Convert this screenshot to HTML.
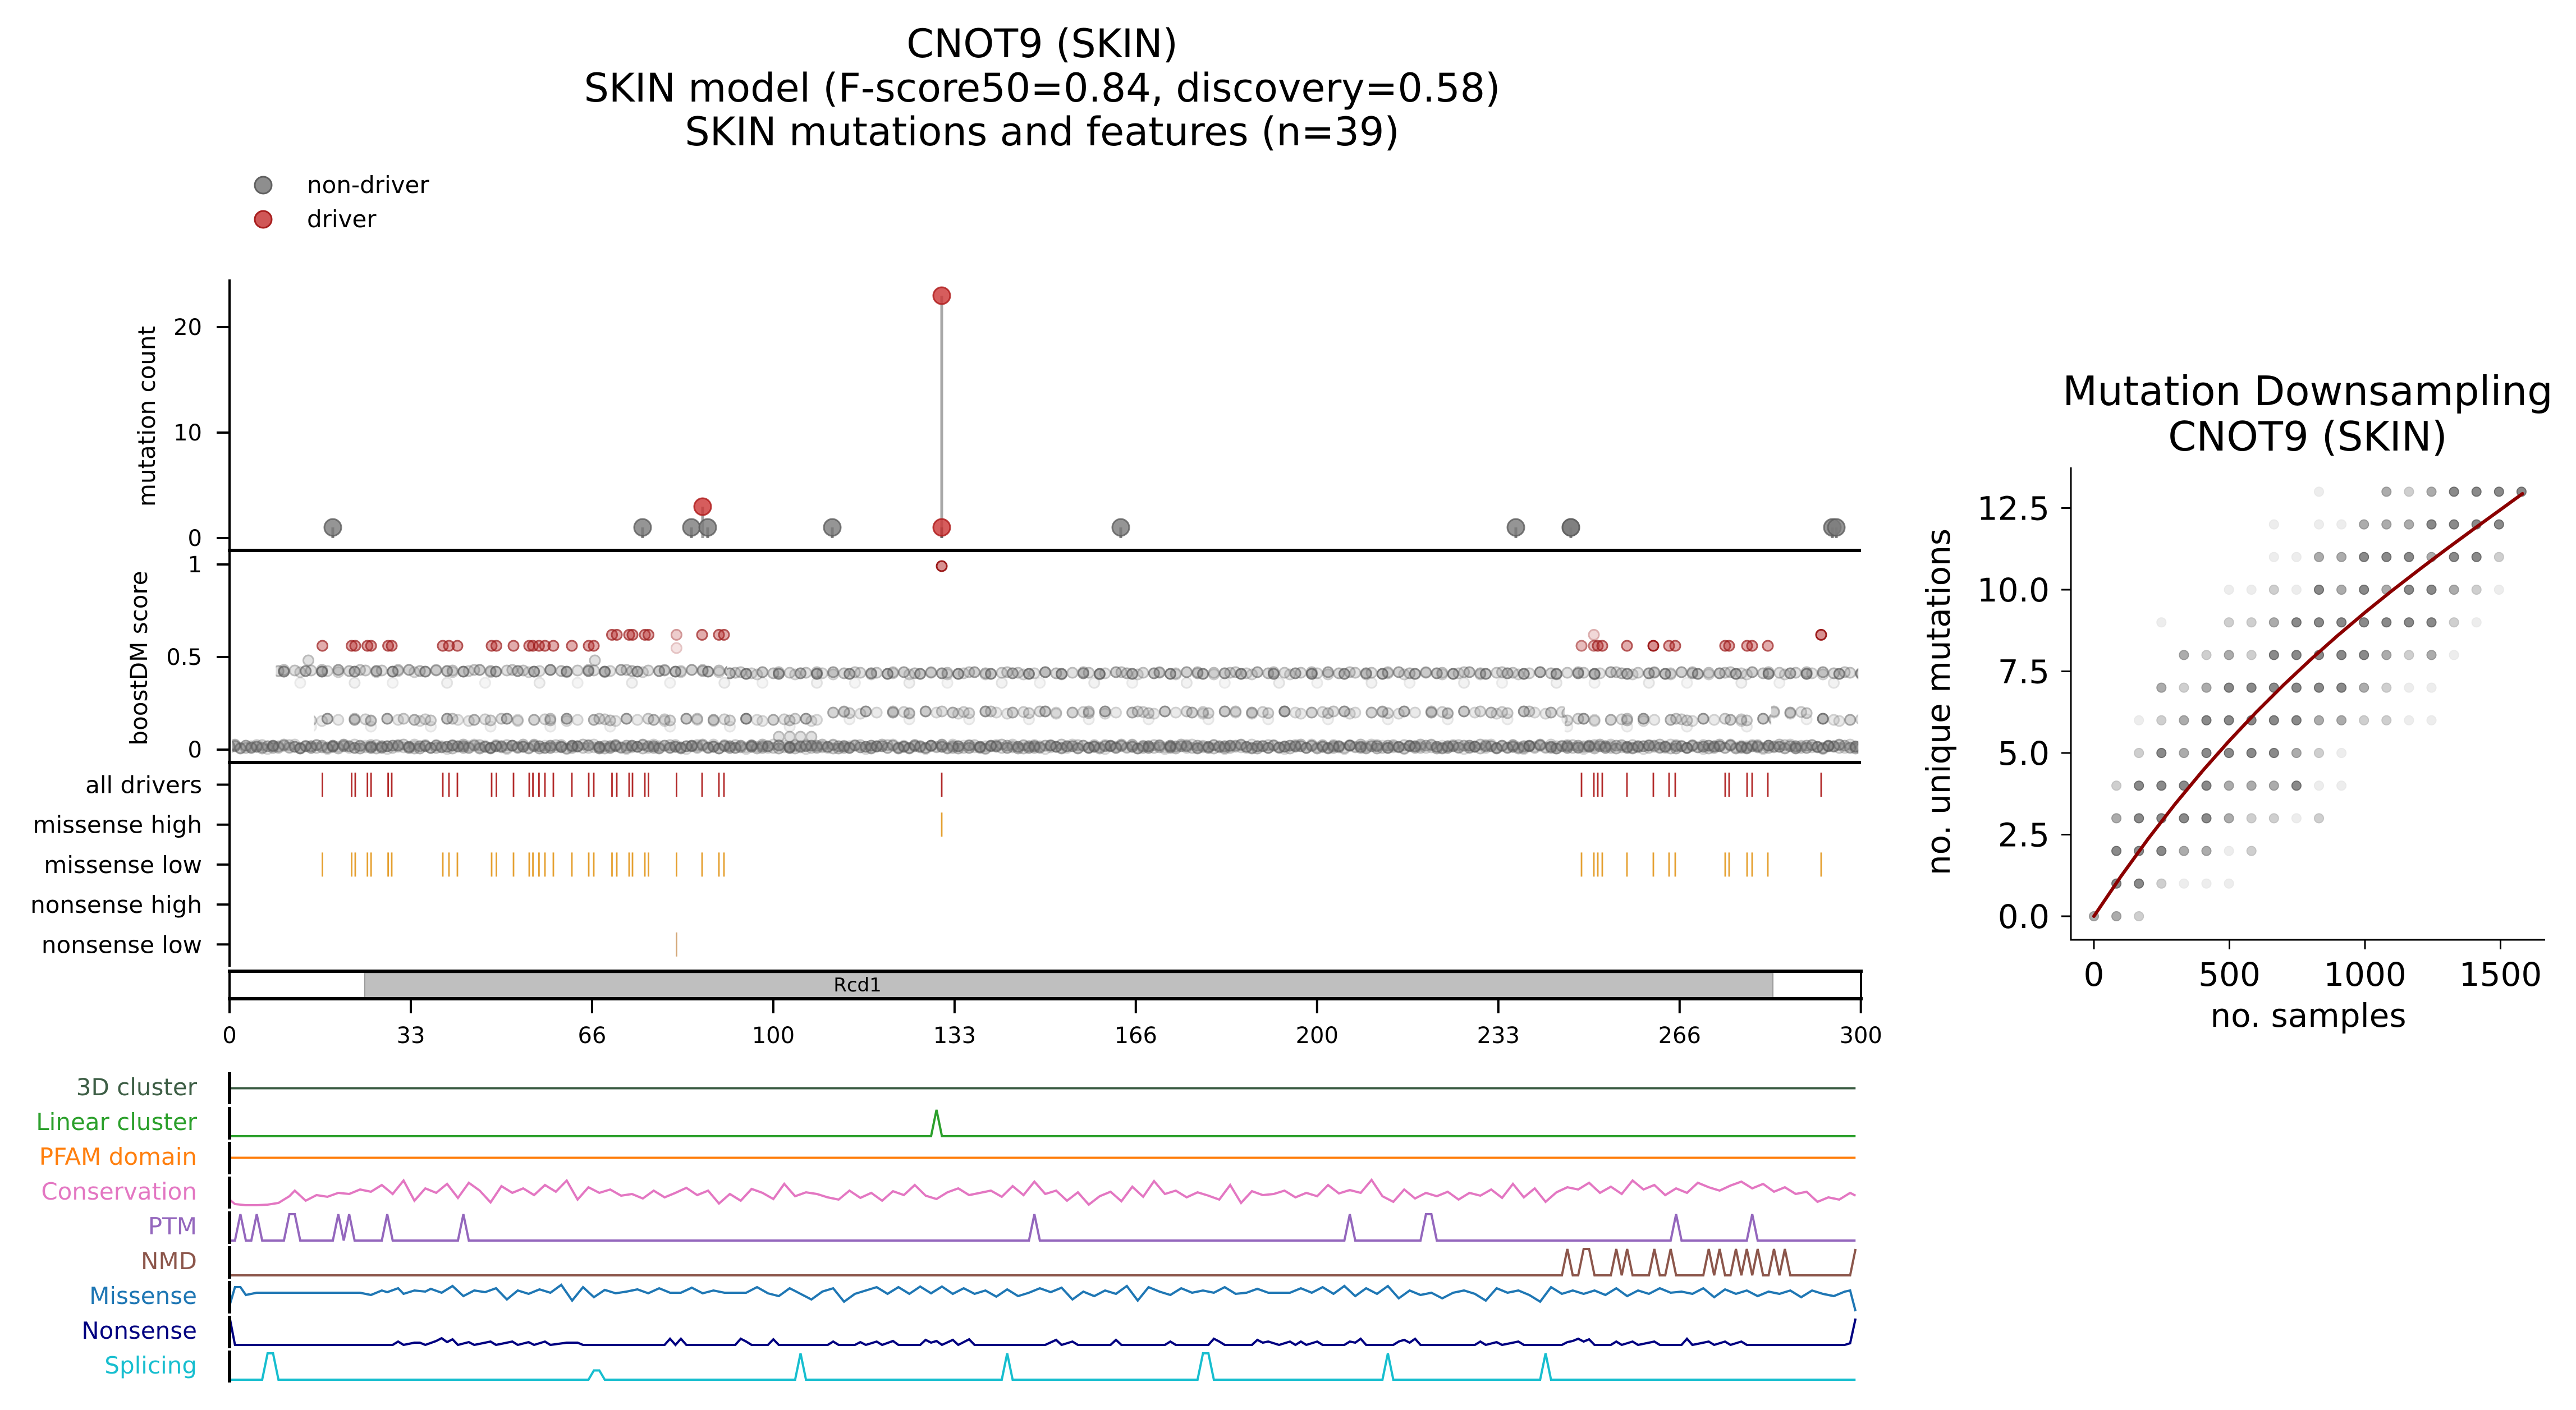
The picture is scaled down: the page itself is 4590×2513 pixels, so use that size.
<!DOCTYPE html>
<html><head><meta charset="utf-8">
<style>html,body{margin:0;padding:0;background:#fff;}svg{display:block;}</style>
</head>
<body>
<svg xmlns="http://www.w3.org/2000/svg" width="4590" height="2513" viewBox="0 0 4590 2513" font-family="'DejaVu Sans','Liberation Sans',sans-serif">
<defs>
<pattern id="p0" patternUnits="userSpaceOnUse" x="413.845" y="1300" width="67.83" height="60">
<g fill="#6a6a6a" fill-opacity="0.5" stroke="#555" stroke-width="3">
<circle cx="-4.845" cy="30" r="9" opacity="0.55"/>
<circle cx="4.845" cy="30" r="9" opacity="0.6"/>
<circle cx="14.535" cy="33" r="9" opacity="0.35"/>
<circle cx="24.225" cy="29" r="9" opacity="0.47"/>
<circle cx="33.915" cy="32" r="9" opacity="0.28"/>
<circle cx="43.605" cy="31" r="9" opacity="0.68"/>
<circle cx="53.295" cy="34" r="9" opacity="0.4"/>
<circle cx="62.985" cy="30" r="9" opacity="0.55"/>
<circle cx="72.675" cy="30" r="9" opacity="0.6"/>
</g>
</pattern>
<pattern id="p1" patternUnits="userSpaceOnUse" x="413.845" y="1300" width="106.59" height="60">
<g fill="#6a6a6a" fill-opacity="0.5" stroke="#555" stroke-width="3">
<circle cx="-4.845" cy="33" r="9" opacity="0.28"/>
<circle cx="4.845" cy="27" r="9" opacity="0.28"/>
<circle cx="14.535" cy="34" r="9" opacity="0.47"/>
<circle cx="24.225" cy="29" r="9" opacity="0.2"/>
<circle cx="33.915" cy="33" r="9" opacity="0.55"/>
<circle cx="43.605" cy="28" r="9" opacity="0.34"/>
<circle cx="53.295" cy="32" r="9" opacity="0.4"/>
<circle cx="62.985" cy="35" r="9" opacity="0.25"/>
<circle cx="72.675" cy="29" r="9" opacity="0.6"/>
<circle cx="82.365" cy="31" r="9" opacity="0.3"/>
<circle cx="92.055" cy="27" r="9" opacity="0.4"/>
<circle cx="101.745" cy="33" r="9" opacity="0.28"/>
<circle cx="111.435" cy="27" r="9" opacity="0.28"/>
</g>
</pattern>
<pattern id="p2" patternUnits="userSpaceOnUse" x="413.845" y="1300" width="48.45" height="60">
<g fill="#6a6a6a" fill-opacity="0.5" stroke="#555" stroke-width="3">
<circle cx="4.845" cy="28" r="9" opacity="0.34"/>
<circle cx="24.225" cy="33" r="9" opacity="0.4"/>
<circle cx="33.915" cy="30" r="9" opacity="0.28"/>
<circle cx="53.295" cy="28" r="9" opacity="0.34"/>
</g>
</pattern>
<pattern id="q1" patternUnits="userSpaceOnUse" x="413.845" y="1170" width="125.97" height="50">
<g fill="#6a6a6a" fill-opacity="0.5" stroke="#555" stroke-width="3">
<circle cx="4.845" cy="26" r="9" opacity="0.68"/>
<circle cx="14.535" cy="25" r="9" opacity="0.4"/>
<circle cx="33.915" cy="27" r="9" opacity="0.8"/>
<circle cx="43.605" cy="26" r="9" opacity="0.34"/>
<circle cx="62.985" cy="24" r="9" opacity="0.6"/>
<circle cx="82.365" cy="26" r="9" opacity="0.47"/>
<circle cx="92.055" cy="27" r="9" opacity="0.74"/>
<circle cx="111.435" cy="25" r="9" opacity="0.4"/>
<circle cx="130.815" cy="26" r="9" opacity="0.68"/>
</g>
</pattern>
<pattern id="q2" patternUnits="userSpaceOnUse" x="413.845" y="1170" width="67.83" height="50">
<g fill="#6a6a6a" fill-opacity="0.5" stroke="#555" stroke-width="3">
<circle cx="24.225" cy="24" r="9" opacity="0.4"/>
<circle cx="53.295" cy="28" r="9" opacity="0.3"/>
</g>
</pattern>
<pattern id="q3" patternUnits="userSpaceOnUse" x="413.845" y="1200" width="164.73" height="40">
<g fill="#6a6a6a" fill-opacity="0.5" stroke="#555" stroke-width="3">
<circle cx="53.295" cy="17" r="9" opacity="0.18"/>
<circle cx="121.125" cy="17" r="9" opacity="0.13"/>
</g>
</pattern>
<pattern id="s1" patternUnits="userSpaceOnUse" x="413.845" y="1250" width="106.59" height="60">
<g fill="#6a6a6a" fill-opacity="0.5" stroke="#555" stroke-width="3">
<circle cx="4.845" cy="33" r="9" opacity="0.55"/>
<circle cx="24.225" cy="32" r="9" opacity="0.34"/>
<circle cx="33.915" cy="34" r="9" opacity="0.4"/>
<circle cx="33.915" cy="45" r="9" opacity="0.15"/>
<circle cx="62.985" cy="31" r="9" opacity="0.68"/>
<circle cx="82.365" cy="33" r="9" opacity="0.28"/>
<circle cx="111.435" cy="33" r="9" opacity="0.55"/>
</g>
</pattern>
<pattern id="s2" patternUnits="userSpaceOnUse" x="413.845" y="1250" width="87.21" height="60">
<g fill="#6a6a6a" fill-opacity="0.5" stroke="#555" stroke-width="3">
<circle cx="43.605" cy="31" r="9" opacity="0.4"/>
<circle cx="72.675" cy="35" r="9" opacity="0.28"/>
</g>
</pattern>
</defs>
<rect width="4590" height="2513" fill="#fff"/>

<!-- Main title -->
<g font-size="70" text-anchor="middle" fill="#000">
<text x="1857" y="102">CNOT9 (SKIN)</text>
<text x="1857" y="181">SKIN model (F-score50=0.84, discovery=0.58)</text>
<text x="1857" y="259">SKIN mutations and features (n=39)</text>
</g>

<!-- Legend -->
<circle cx="469" cy="330" r="15" fill="#7a7a7a" fill-opacity="0.85" stroke="#606060" stroke-width="3"/>
<circle cx="469" cy="391" r="15" fill="#c83a3a" fill-opacity="0.85" stroke="#a81e1e" stroke-width="3"/>
<g font-size="42" fill="#000">
<text x="547" y="344">non-driver</text>
<text x="547" y="405">driver</text>
</g>

<!-- boostDM dots -->
<rect x="413.845" y="1300" width="2897.4" height="60" fill="url(#p0)"/>
<rect x="413.845" y="1300" width="2897.4" height="60" fill="url(#p1)"/>
<rect x="413.845" y="1300" width="2897.4" height="60" fill="url(#p2)"/>
<rect x="491.4" y="1170" width="804.2" height="50" fill="url(#q1)"/>
<rect x="491.4" y="1170" width="804.2" height="50" fill="url(#q2)"/>
<g transform="translate(0,4)">
<rect x="1295.6" y="1170" width="2015.6" height="50" fill="url(#q1)"/>
<rect x="1295.6" y="1170" width="2015.6" height="50" fill="url(#q2)"/>
</g>
<rect x="491.4" y="1200" width="2819.8" height="40" fill="url(#q3)"/>
<rect x="559.2" y="1250" width="910.9" height="60" fill="url(#s1)"/>
<rect x="559.2" y="1250" width="910.9" height="60" fill="url(#s2)"/>
<g transform="translate(0,-13)">
<rect x="1470.1" y="1250" width="1317.8" height="60" fill="url(#s1)"/>
<rect x="1470.1" y="1250" width="1317.8" height="60" fill="url(#s2)"/>
<rect x="3156.1" y="1250" width="77.5" height="60" fill="url(#s1)"/>
<rect x="3156.1" y="1250" width="77.5" height="60" fill="url(#s2)"/>
</g>
<rect x="2787.9" y="1250" width="368.2" height="60" fill="url(#s1)"/>
<rect x="2787.9" y="1250" width="368.2" height="60" fill="url(#s2)"/>
<rect x="3233.6" y="1250" width="77.5" height="60" fill="url(#s1)"/>
<rect x="3233.6" y="1250" width="77.5" height="60" fill="url(#s2)"/>
<g fill="#6a6a6a" fill-opacity="0.5" stroke="#555" stroke-width="3" opacity="0.4">
<circle cx="1387.7" cy="1313" r="9"/>
<circle cx="1407.1" cy="1313" r="9"/>
<circle cx="1426.4" cy="1313" r="9"/>
<circle cx="1445.8" cy="1313" r="9"/>
<circle cx="549.5" cy="1177" r="9"/>
<circle cx="1060" cy="1177" r="9"/>
</g>
<!-- red driver dots -->
<g fill="#b22222" fill-opacity="0.5" stroke="#9c1a1a" stroke-width="3">
<circle cx="574.5" cy="1151" r="9" opacity="0.75"/>
<circle cx="626.6" cy="1151" r="9" opacity="0.75"/>
<circle cx="633" cy="1151" r="9" opacity="0.75"/>
<circle cx="654.7" cy="1151" r="9" opacity="0.75"/>
<circle cx="661.2" cy="1151" r="9" opacity="0.75"/>
<circle cx="691.6" cy="1151" r="9" opacity="0.75"/>
<circle cx="698" cy="1151" r="9" opacity="0.75"/>
<circle cx="789" cy="1151" r="9" opacity="0.75"/>
<circle cx="800" cy="1151" r="9" opacity="0.75"/>
<circle cx="815" cy="1151" r="9" opacity="0.75"/>
<circle cx="876" cy="1151" r="9" opacity="0.75"/>
<circle cx="884.5" cy="1151" r="9" opacity="0.75"/>
<circle cx="915" cy="1151" r="9" opacity="0.75"/>
<circle cx="943" cy="1151" r="9" opacity="0.75"/>
<circle cx="949.6" cy="1151" r="9" opacity="0.75"/>
<circle cx="960.4" cy="1151" r="9" opacity="0.75"/>
<circle cx="971" cy="1151" r="9" opacity="0.75"/>
<circle cx="986" cy="1151" r="9" opacity="0.75"/>
<circle cx="1019" cy="1151" r="9" opacity="0.75"/>
<circle cx="1049" cy="1151" r="9" opacity="0.75"/>
<circle cx="1058" cy="1151" r="9" opacity="0.75"/>
<circle cx="1090.5" cy="1131.4" r="9" opacity="0.75"/>
<circle cx="1099" cy="1131.4" r="9" opacity="0.75"/>
<circle cx="1121" cy="1131.4" r="9" opacity="0.75"/>
<circle cx="1127" cy="1131.4" r="9" opacity="0.75"/>
<circle cx="1149" cy="1131.4" r="9" opacity="0.75"/>
<circle cx="1155.5" cy="1131.4" r="9" opacity="0.75"/>
<circle cx="1205.4" cy="1131.4" r="9" opacity="0.45"/>
<circle cx="1205.4" cy="1155" r="9" opacity="0.25"/>
<circle cx="1251" cy="1131.4" r="9" opacity="0.75"/>
<circle cx="1281" cy="1131.4" r="9" opacity="0.75"/>
<circle cx="1290" cy="1131.4" r="9" opacity="0.75"/>
<circle cx="1678" cy="1009" r="9" opacity="1"/>
<circle cx="2818" cy="1151" r="9" opacity="0.6"/>
<circle cx="2840" cy="1131.4" r="9" opacity="0.35"/>
<circle cx="2840" cy="1151" r="9" opacity="0.6"/>
<circle cx="2847" cy="1151" r="9" opacity="0.75"/>
<circle cx="2855" cy="1151" r="9" opacity="0.75"/>
<circle cx="2899" cy="1151" r="9" opacity="0.75"/>
<circle cx="2946" cy="1151" r="9" opacity="1"/>
<circle cx="2974" cy="1151" r="9" opacity="0.75"/>
<circle cx="2985" cy="1151" r="9" opacity="0.75"/>
<circle cx="3074" cy="1151" r="9" opacity="0.75"/>
<circle cx="3081" cy="1151" r="9" opacity="0.75"/>
<circle cx="3113" cy="1151" r="9" opacity="0.75"/>
<circle cx="3122" cy="1151" r="9" opacity="0.75"/>
<circle cx="3150" cy="1151" r="9" opacity="0.75"/>
<circle cx="3245" cy="1131.4" r="9" opacity="1"/>
</g>

<!-- track lines -->
<path fill="none" stroke="#b22a2a" stroke-width="2.8" d="M574.5 1377v43M626.6 1377v43M633 1377v43M654.7 1377v43M661.2 1377v43M691.6 1377v43M698 1377v43M789 1377v43M800 1377v43M815 1377v43M876 1377v43M884.5 1377v43M915 1377v43M943 1377v43M949.6 1377v43M960.4 1377v43M971 1377v43M986 1377v43M1019 1377v43M1049 1377v43M1058 1377v43M1090.5 1377v43M1099 1377v43M1121 1377v43M1127 1377v43M1149 1377v43M1155.5 1377v43M1205.4 1377v43M1251 1377v43M1281 1377v43M1290 1377v43M1678 1377v43M2818 1377v43M2840 1377v43M2847 1377v43M2855 1377v43M2899 1377v43M2946 1377v43M2974 1377v43M2985 1377v43M3074 1377v43M3081 1377v43M3113 1377v43M3122 1377v43M3150 1377v43M3245 1377v43"/>
<path fill="none" stroke="#e5a030" stroke-width="2.8" d="M1678 1448.2v43"/>
<path fill="none" stroke="#e5a030" stroke-width="2.8" d="M574.5 1519.4v43M626.6 1519.4v43M633 1519.4v43M654.7 1519.4v43M661.2 1519.4v43M691.6 1519.4v43M698 1519.4v43M789 1519.4v43M800 1519.4v43M815 1519.4v43M876 1519.4v43M884.5 1519.4v43M915 1519.4v43M943 1519.4v43M949.6 1519.4v43M960.4 1519.4v43M971 1519.4v43M986 1519.4v43M1019 1519.4v43M1049 1519.4v43M1058 1519.4v43M1090.5 1519.4v43M1099 1519.4v43M1121 1519.4v43M1127 1519.4v43M1149 1519.4v43M1155.5 1519.4v43M1205.4 1519.4v43M1251 1519.4v43M1281 1519.4v43M1290 1519.4v43M2818 1519.4v43M2840 1519.4v43M2847 1519.4v43M2855 1519.4v43M2899 1519.4v43M2946 1519.4v43M2974 1519.4v43M2985 1519.4v43M3074 1519.4v43M3081 1519.4v43M3113 1519.4v43M3122 1519.4v43M3150 1519.4v43M3245 1519.4v43"/>
<path fill="none" stroke="#d4a97a" stroke-width="2.8" d="M1205.4 1661.8v43"/>

<!-- Top plot stems and dots -->
<line x1="1678" y1="959" x2="1678" y2="527" stroke="#a8a8a8" stroke-width="5"/>
<line x1="1252" y1="959" x2="1252" y2="903" stroke="#a0a0a0" stroke-width="5"/>
<g stroke="#555" stroke-opacity="0.75" stroke-width="5">
<line x1="593" y1="959" x2="593" y2="940"/>
<line x1="1145" y1="959" x2="1145" y2="940"/>
<line x1="1232" y1="959" x2="1232" y2="940"/>
<line x1="1261" y1="959" x2="1261" y2="940"/>
<line x1="1483" y1="959" x2="1483" y2="940"/>
<line x1="1997" y1="959" x2="1997" y2="940"/>
<line x1="2701" y1="959" x2="2701" y2="940"/>
<line x1="2799" y1="959" x2="2799" y2="940"/>
<line x1="3265" y1="959" x2="3265" y2="940"/>
<line x1="3272" y1="959" x2="3272" y2="940"/>
<line x1="1678" y1="959" x2="1678" y2="940"/>
</g>
<g fill="#7a7a7a" fill-opacity="0.8" stroke="#5c5c5c" stroke-opacity="0.8" stroke-width="3">
<circle cx="593" cy="940" r="15"/>
<circle cx="1145" cy="940" r="15"/>
<circle cx="1232" cy="940" r="15"/>
<circle cx="1261" cy="940" r="15"/>
<circle cx="1483" cy="940" r="15"/>
<circle cx="1997" cy="940" r="15"/>
<circle cx="2701" cy="940" r="15"/>
<circle cx="2799" cy="940" r="15"/>
<circle cx="2799" cy="940" r="15"/>
<circle cx="3265" cy="940" r="15"/>
<circle cx="3272" cy="940" r="15"/>
</g>
<g fill="#cc3535" fill-opacity="0.8" stroke="#b01e1e" stroke-opacity="0.85" stroke-width="3">
<circle cx="1252" cy="903" r="15"/>
<circle cx="1678" cy="940" r="15"/>
<circle cx="1678" cy="527" r="15"/>
</g>

<!-- Axes main -->
<g stroke="#000" stroke-width="4">
<line x1="409" y1="498" x2="409" y2="984"/>
<line x1="386" y1="959" x2="409" y2="959"/>
<line x1="386" y1="771" x2="409" y2="771"/>
<line x1="386" y1="583" x2="409" y2="583"/>
<line x1="409" y1="984" x2="409" y2="1362"/>
<line x1="386" y1="1006" x2="409" y2="1006"/>
<line x1="386" y1="1171" x2="409" y2="1171"/>
<line x1="386" y1="1336" x2="409" y2="1336"/>
<line x1="409" y1="1362" x2="409" y2="1723"/>
<line x1="386" y1="1398.5" x2="409" y2="1398.5"/>
<line x1="386" y1="1469.7" x2="409" y2="1469.7"/>
<line x1="386" y1="1540.9" x2="409" y2="1540.9"/>
<line x1="386" y1="1612.1" x2="409" y2="1612.1"/>
<line x1="386" y1="1683.3" x2="409" y2="1683.3"/>
</g>
<g stroke="#000" stroke-width="6">
<line x1="406" y1="981" x2="3316" y2="981"/>
<line x1="406" y1="1359" x2="3316" y2="1359"/>
</g>
<g font-size="40" text-anchor="end" fill="#000">
<text x="360" y="973">0</text>
<text x="360" y="785">10</text>
<text x="360" y="597">20</text>
<text x="360" y="1020">1</text>
<text x="360" y="1185">0.5</text>
<text x="360" y="1350">0</text>
</g>
<g font-size="42" text-anchor="end" fill="#000">
<text x="360" y="1413.5">all drivers</text>
<text x="360" y="1484.7">missense high</text>
<text x="360" y="1555.9">missense low</text>
<text x="360" y="1627.1">nonsense high</text>
<text x="360" y="1698.3">nonsense low</text>
</g>
<text transform="translate(276,742) rotate(-90)" font-size="42" text-anchor="middle">mutation count</text>
<text transform="translate(262,1173) rotate(-90)" font-size="42" text-anchor="middle">boostDM score</text>

<!-- Domain box -->
<rect x="650" y="1734" width="2509" height="44" fill="#bfbfbf" stroke="#9a9a9a" stroke-width="2"/>
<g stroke="#000">
<line x1="406" y1="1731" x2="3319" y2="1731" stroke-width="6"/>
<line x1="406" y1="1780" x2="3319" y2="1780" stroke-width="6"/>
<line x1="409" y1="1731" x2="409" y2="1780" stroke-width="4"/>
<line x1="3316" y1="1731" x2="3316" y2="1780" stroke-width="4"/>
</g>
<text x="1528" y="1767" font-size="34" text-anchor="middle">Rcd1</text>

<!-- X ticks -->
<g stroke="#000" stroke-width="4">
<line x1="409" y1="1782" x2="409" y2="1806"/>
<line x1="732" y1="1782" x2="732" y2="1806"/>
<line x1="1054.9" y1="1782" x2="1054.9" y2="1806"/>
<line x1="1377.9" y1="1782" x2="1377.9" y2="1806"/>
<line x1="1700.9" y1="1782" x2="1700.9" y2="1806"/>
<line x1="2023.8" y1="1782" x2="2023.8" y2="1806"/>
<line x1="2346.8" y1="1782" x2="2346.8" y2="1806"/>
<line x1="2669.8" y1="1782" x2="2669.8" y2="1806"/>
<line x1="2992.8" y1="1782" x2="2992.8" y2="1806"/>
<line x1="3315.7" y1="1782" x2="3315.7" y2="1806"/>
</g>
<g font-size="40" text-anchor="middle" fill="#000">
<text x="409" y="1859">0</text>
<text x="732" y="1859">33</text>
<text x="1054.9" y="1859">66</text>
<text x="1377.9" y="1859">100</text>
<text x="1700.9" y="1859">133</text>
<text x="2023.8" y="1859">166</text>
<text x="2346.8" y="1859">200</text>
<text x="2669.8" y="1859">233</text>
<text x="2992.8" y="1859">266</text>
<text x="3315.7" y="1859">300</text>
</g>

<!-- Feature lines -->
<g transform="translate(409,0) scale(9.69,1)" fill="none" stroke-width="4" stroke-linejoin="miter">
<polyline vector-effect="non-scaling-stroke" stroke="#3d5e45" points="0,1939.5 299,1939.5"/>
<polyline vector-effect="non-scaling-stroke" stroke="#2ca02c" points="0,2025 129,2025 130,1978 131,2025 299,2025"/>
<polyline vector-effect="non-scaling-stroke" stroke="#ff7f0e" points="0,2063.5 299,2063.5"/>
<polyline vector-effect="non-scaling-stroke" stroke="#e377c2" points="0,2138 1,2146 3,2148 5,2148 7,2147 9,2144 11,2132 12,2122 14,2140 16,2130 18,2133 20,2126 22,2128 24,2120 26,2124 28,2112 30,2128 32,2104 34,2140 36,2118 38,2126 40,2110 42,2135 44,2108 46,2122 48,2143 50,2114 52,2126 54,2118 56,2130 58,2112 60,2124 62,2104 64,2138 66,2116 68,2126 70,2120 72,2131 74,2128 76,2136 78,2122 80,2134 82,2126 84,2117 86,2130 88,2122 90,2145 92,2128 94,2140 96,2119 98,2126 100,2137 102,2110 104,2132 106,2125 108,2128 110,2134 112,2138 114,2122 116,2135 118,2126 120,2140 122,2123 124,2130 126,2112 128,2131 130,2137 132,2125 134,2118 136,2130 138,2126 140,2122 142,2133 144,2114 146,2130 148,2106 150,2128 152,2122 154,2140 156,2125 158,2147 160,2132 162,2124 164,2141 166,2115 168,2133 170,2105 172,2128 174,2122 176,2134 178,2125 180,2131 182,2138 184,2112 186,2144 188,2123 190,2130 192,2128 194,2122 196,2134 198,2126 200,2132 202,2112 204,2127 206,2121 208,2126 210,2103 212,2132 214,2142 216,2120 218,2136 220,2126 222,2132 224,2124 226,2138 228,2126 230,2131 232,2120 234,2135 236,2110 238,2134 240,2118 242,2142 244,2125 246,2116 248,2120 250,2108 252,2126 254,2115 256,2128 258,2104 260,2120 262,2112 264,2130 266,2118 268,2126 270,2108 272,2116 274,2122 276,2113 278,2106 280,2118 282,2110 284,2124 286,2116 288,2128 290,2124 292,2142 294,2134 296,2138 298,2126 299,2131"/>
<polyline vector-effect="non-scaling-stroke" stroke="#9467bd" points="0,2211 1,2211 2,2164 3,2211 4,2211 5,2164 6,2211 10,2211 11,2164 12,2164 13,2211 19,2211 20,2164 21,2211 22,2164 23,2211 28,2211 29,2164 30,2211 42,2211 43,2164 44,2211 147,2211 148,2164 149,2211 205,2211 206,2164 207,2211 219,2211 220,2164 221,2164 222,2211 265,2211 266,2164 267,2211 279,2211 280,2164 281,2211 299,2211"/>
<polyline vector-effect="non-scaling-stroke" stroke="#8c564b" points="0,2273 245,2273 246,2226 247,2273 248,2273 249,2226 250,2226 251,2273 254,2273 255,2226 256,2273 257,2226 258,2273 261,2273 262,2226 263,2273 264,2273 265,2226 266,2273 271,2273 272,2226 273,2273 274,2226 275,2273 276,2273 277,2226 278,2273 279,2226 280,2273 281,2226 282,2273 283,2273 284,2226 285,2273 286,2226 287,2273 298,2273 299,2226"/>
<polyline vector-effect="non-scaling-stroke" stroke="#1f77b4" points="0,2327 1,2294 2,2294 3,2308 5,2304 24,2304 26,2308 28,2300 29,2303 31,2296 32,2306 34,2300 36,2302 37,2297 39,2304 41,2292 43,2310 45,2300 47,2303 49,2296 51,2316 53,2300 55,2306 57,2298 59,2304 61,2290 63,2318 65,2294 67,2312 69,2299 71,2305 73,2302 75,2298 77,2305 79,2296 81,2304 83,2304 85,2295 87,2305 89,2300 91,2304 95,2304 97,2294 99,2305 101,2310 103,2296 105,2306 107,2316 109,2302 111,2296 113,2320 115,2306 117,2300 119,2294 121,2306 123,2294 125,2306 127,2293 129,2305 131,2293 133,2306 135,2296 137,2306 139,2300 141,2311 143,2298 145,2310 147,2304 149,2296 151,2303 153,2295 155,2316 157,2302 159,2310 161,2300 163,2306 165,2292 167,2318 169,2294 171,2302 173,2308 175,2296 177,2304 179,2300 181,2304 183,2294 185,2306 187,2304 189,2297 191,2304 195,2304 197,2296 199,2304 201,2294 203,2306 205,2292 207,2310 209,2296 211,2306 213,2292 215,2314 217,2300 219,2308 221,2304 223,2314 225,2304 227,2300 229,2306 231,2318 233,2296 235,2304 237,2300 239,2308 241,2320 243,2294 245,2306 247,2300 249,2306 251,2300 253,2308 255,2296 257,2310 259,2300 261,2306 263,2296 265,2304 267,2302 269,2306 271,2296 273,2312 275,2298 277,2306 279,2300 281,2310 283,2302 285,2306 287,2300 289,2312 291,2300 293,2306 295,2310 297,2302 298,2300 299,2337"/>
<polyline vector-effect="non-scaling-stroke" stroke="#000080" points="0,2347 1,2397 30,2397 31,2391 32,2397 34,2393 35,2393 36,2397 38,2390 39,2385 40,2392 41,2387 42,2397 44,2392 45,2397 48,2391 49,2397 52,2391 53,2397 55,2392 56,2397 58,2391 59,2397 62,2393 64,2393 65,2397 80,2397 81,2386 82,2397 83,2386 84,2397 93,2397 94,2386 95,2391 96,2397 99,2397 100,2387 101,2397 110,2397 111,2391 112,2397 115,2397 116,2392 117,2397 119,2391 120,2397 122,2390 123,2397 127,2397 128,2388 129,2393 130,2390 131,2397 133,2388 134,2397 136,2387 137,2397 150,2397 152,2388 153,2397 155,2391 156,2397 162,2397 163,2388 164,2397 172,2397 173,2391 174,2397 180,2397 181,2386 182,2391 183,2397 188,2397 189,2388 190,2393 191,2391 193,2397 195,2391 196,2397 197,2391 198,2397 200,2391 201,2397 205,2397 206,2391 207,2393 208,2386 209,2397 214,2397 215,2391 216,2388 217,2393 218,2386 219,2397 229,2397 230,2391 231,2397 233,2392 234,2397 237,2391 238,2397 245,2397 246,2392 247,2390 248,2386 249,2391 250,2387 251,2397 254,2397 255,2391 256,2397 258,2391 259,2397 262,2391 263,2397 267,2397 268,2386 269,2397 272,2391 273,2397 275,2391 276,2397 278,2391 279,2397 297,2397 298,2394 299,2350"/>
<polyline vector-effect="non-scaling-stroke" stroke="#17becf" points="0,2459 6,2459 7,2412 8,2412 9,2459 66,2459 67,2442.5 68,2442.5 69,2459 104,2459 105,2412 106,2459 142,2459 143,2412 144,2459 178,2459 179,2412 180,2412 181,2459 212,2459 213,2412 214,2459 241,2459 242,2412 243,2459 299,2459"/>
</g>

<!-- Feature track spines -->
<g stroke="#000" stroke-width="6">
<line x1="409" y1="1911" x2="409" y2="1968"/>
<line x1="409" y1="1973" x2="409" y2="2031"/>
<line x1="409" y1="2035" x2="409" y2="2093"/>
<line x1="409" y1="2097" x2="409" y2="2154"/>
<line x1="409" y1="2159" x2="409" y2="2217"/>
<line x1="409" y1="2221" x2="409" y2="2279"/>
<line x1="409" y1="2283" x2="409" y2="2341"/>
<line x1="409" y1="2345" x2="409" y2="2403"/>
<line x1="409" y1="2407" x2="409" y2="2464"/>
</g>
<g font-size="42" text-anchor="end">
<text x="351" y="1952" fill="#3d5e45">3D cluster</text>
<text x="351" y="2014" fill="#2ca02c">Linear cluster</text>
<text x="351" y="2076" fill="#ff7f0e">PFAM domain</text>
<text x="351" y="2138" fill="#e377c2">Conservation</text>
<text x="351" y="2200" fill="#9467bd">PTM</text>
<text x="351" y="2262" fill="#8c564b">NMD</text>
<text x="351" y="2324" fill="#1f77b4">Missense</text>
<text x="351" y="2386" fill="#000080">Nonsense</text>
<text x="351" y="2448" fill="#17becf">Splicing</text>
</g>

<!-- Right plot -->
<g font-size="72" text-anchor="middle" fill="#000">
<text x="4112" y="722">Mutation Downsampling</text>
<text x="4112" y="803">CNOT9 (SKIN)</text>
</g>
<!-- scatter: D -->
<g fill="#6a6a6a" fill-opacity="0.9" stroke="#5a5a5a" stroke-width="2" opacity="0.88">
<circle cx="4372.6" cy="876.4" r="8"/><circle cx="4412.7" cy="876.4" r="8"/><circle cx="4452.8" cy="876.4" r="8"/><circle cx="4492.9" cy="876.4" r="8"/>
<circle cx="4332.5" cy="934.6" r="8"/><circle cx="4372.6" cy="934.6" r="8"/><circle cx="4412.7" cy="934.6" r="8"/><circle cx="4452.8" cy="934.6" r="8"/>
<circle cx="4212.2" cy="992.8" r="8"/><circle cx="4252.3" cy="992.8" r="8"/><circle cx="4292.4" cy="992.8" r="8"/><circle cx="4372.6" cy="992.8" r="8"/><circle cx="4412.7" cy="992.8" r="8"/>
<circle cx="4132" cy="1051" r="8"/><circle cx="4212.2" cy="1051" r="8"/><circle cx="4292.4" cy="1051" r="8"/><circle cx="4332.5" cy="1051" r="8"/>
<circle cx="4091.9" cy="1109.2" r="8"/><circle cx="4132" cy="1109.2" r="8"/><circle cx="4172.1" cy="1109.2" r="8"/><circle cx="4212.2" cy="1109.2" r="8"/><circle cx="4252.3" cy="1109.2" r="8"/><circle cx="4292.4" cy="1109.2" r="8"/><circle cx="4332.5" cy="1109.2" r="8"/>
<circle cx="4051.8" cy="1167.4" r="8"/><circle cx="4091.9" cy="1167.4" r="8"/><circle cx="4132" cy="1167.4" r="8"/><circle cx="4172.1" cy="1167.4" r="8"/><circle cx="4212.2" cy="1167.4" r="8"/>
<circle cx="3971.6" cy="1225.6" r="8"/><circle cx="4011.7" cy="1225.6" r="8"/><circle cx="4051.8" cy="1225.6" r="8"/><circle cx="4091.9" cy="1225.6" r="8"/><circle cx="4132" cy="1225.6" r="8"/><circle cx="4172.1" cy="1225.6" r="8"/>
<circle cx="3931.5" cy="1283.8" r="8"/><circle cx="3971.6" cy="1283.8" r="8"/><circle cx="4011.7" cy="1283.8" r="8"/><circle cx="4051.8" cy="1283.8" r="8"/><circle cx="4091.9" cy="1283.8" r="8"/>
<circle cx="3851.3" cy="1342" r="8"/><circle cx="3931.5" cy="1342" r="8"/><circle cx="3971.6" cy="1342" r="8"/><circle cx="4011.7" cy="1342" r="8"/><circle cx="4051.8" cy="1342" r="8"/>
<circle cx="3811.2" cy="1400.2" r="8"/><circle cx="3851.3" cy="1400.2" r="8"/><circle cx="3891.4" cy="1400.2" r="8"/><circle cx="3931.5" cy="1400.2" r="8"/><circle cx="4091.9" cy="1400.2" r="8"/>
<circle cx="3811.2" cy="1458.4" r="8"/><circle cx="3851.3" cy="1458.4" r="8"/><circle cx="3891.4" cy="1458.4" r="8"/><circle cx="3931.5" cy="1458.4" r="8"/>
<circle cx="3771.1" cy="1516.6" r="8"/><circle cx="3811.2" cy="1516.6" r="8"/><circle cx="3851.3" cy="1516.6" r="8"/>
<circle cx="3771.1" cy="1574.8" r="8"/><circle cx="3811.2" cy="1574.8" r="8"/>
</g>
<!-- scatter: M -->
<g fill="#6a6a6a" fill-opacity="0.9" stroke="#5a5a5a" stroke-width="2" opacity="0.62">
<circle cx="4252.3" cy="876.4" r="8"/><circle cx="4332.5" cy="876.4" r="8"/>
<circle cx="4212.2" cy="934.6" r="8"/><circle cx="4252.3" cy="934.6" r="8"/><circle cx="4292.4" cy="934.6" r="8"/>
<circle cx="4132" cy="992.8" r="8"/><circle cx="4172.1" cy="992.8" r="8"/><circle cx="4332.5" cy="992.8" r="8"/>
<circle cx="4172.1" cy="1051" r="8"/><circle cx="4252.3" cy="1051" r="8"/><circle cx="4372.6" cy="1051" r="8"/>
<circle cx="4051.8" cy="1109.2" r="8"/>
<circle cx="3891.4" cy="1167.4" r="8"/><circle cx="3971.6" cy="1167.4" r="8"/><circle cx="4252.3" cy="1167.4" r="8"/><circle cx="4332.5" cy="1167.4" r="8"/>
<circle cx="3851.3" cy="1225.6" r="8"/><circle cx="3931.5" cy="1225.6" r="8"/><circle cx="4212.2" cy="1225.6" r="8"/>
<circle cx="3891.4" cy="1283.8" r="8"/><circle cx="4132" cy="1283.8" r="8"/><circle cx="4172.1" cy="1283.8" r="8"/>
<circle cx="3891.4" cy="1342" r="8"/><circle cx="4091.9" cy="1342" r="8"/>
<circle cx="3971.6" cy="1400.2" r="8"/><circle cx="4011.7" cy="1400.2" r="8"/><circle cx="4051.8" cy="1400.2" r="8"/>
<circle cx="3771.1" cy="1458.4" r="8"/><circle cx="3971.6" cy="1458.4" r="8"/>
<circle cx="3891.4" cy="1516.6" r="8"/><circle cx="3931.5" cy="1516.6" r="8"/>
<circle cx="3731" cy="1633" r="8"/><circle cx="3771.1" cy="1633" r="8"/>
</g>
<!-- scatter: L -->
<g fill="#6a6a6a" fill-opacity="0.9" stroke="#5a5a5a" stroke-width="2" opacity="0.36">
<circle cx="4292.4" cy="876.4" r="8"/>
<circle cx="4452.8" cy="992.8" r="8"/>
<circle cx="4051.8" cy="1051" r="8"/><circle cx="4412.7" cy="1051" r="8"/>
<circle cx="3971.6" cy="1109.2" r="8"/><circle cx="4011.7" cy="1109.2" r="8"/><circle cx="4372.6" cy="1109.2" r="8"/>
<circle cx="3931.5" cy="1167.4" r="8"/><circle cx="4011.7" cy="1167.4" r="8"/><circle cx="4292.4" cy="1167.4" r="8"/>
<circle cx="3891.4" cy="1225.6" r="8"/><circle cx="4252.3" cy="1225.6" r="8"/>
<circle cx="3851.3" cy="1283.8" r="8"/><circle cx="4212.2" cy="1283.8" r="8"/><circle cx="4252.3" cy="1283.8" r="8"/>
<circle cx="3811.2" cy="1342" r="8"/><circle cx="4132" cy="1342" r="8"/>
<circle cx="3771.1" cy="1400.2" r="8"/>
<circle cx="4011.7" cy="1458.4" r="8"/><circle cx="4051.8" cy="1458.4" r="8"/><circle cx="4132" cy="1458.4" r="8"/>
<circle cx="4011.7" cy="1516.6" r="8"/>
<circle cx="3851.3" cy="1574.8" r="8"/>
<circle cx="3811.2" cy="1633" r="8"/>
</g>
<!-- scatter: V -->
<g fill="#6a6a6a" fill-opacity="0.9" stroke="#5a5a5a" stroke-width="2" opacity="0.13">
<circle cx="4132" cy="876.4" r="8"/>
<circle cx="4051.8" cy="934.6" r="8"/><circle cx="4132" cy="934.6" r="8"/><circle cx="4172.1" cy="934.6" r="8"/>
<circle cx="4051.8" cy="992.8" r="8"/><circle cx="4091.9" cy="992.8" r="8"/>
<circle cx="3971.6" cy="1051" r="8"/><circle cx="4011.7" cy="1051" r="8"/><circle cx="4091.9" cy="1051" r="8"/><circle cx="4452.8" cy="1051" r="8"/>
<circle cx="3851.3" cy="1109.2" r="8"/><circle cx="4412.7" cy="1109.2" r="8"/>
<circle cx="4372.6" cy="1167.4" r="8"/>
<circle cx="4292.4" cy="1225.6" r="8"/><circle cx="4332.5" cy="1225.6" r="8"/>
<circle cx="3811.2" cy="1283.8" r="8"/><circle cx="4292.4" cy="1283.8" r="8"/><circle cx="4332.5" cy="1283.8" r="8"/>
<circle cx="4172.1" cy="1342" r="8"/>
<circle cx="4132" cy="1400.2" r="8"/><circle cx="4172.1" cy="1400.2" r="8"/>
<circle cx="4091.9" cy="1458.4" r="8"/>
<circle cx="3971.6" cy="1516.6" r="8"/>
<circle cx="3891.4" cy="1574.8" r="8"/><circle cx="3931.5" cy="1574.8" r="8"/><circle cx="3971.6" cy="1574.8" r="8"/>
</g>
<polyline fill="none" stroke="#8b0000" stroke-width="6" stroke-linecap="round" points="3731,1633 3779.3,1561.7 3827.6,1495.0 3875.9,1432.7 3924.2,1374.4 3972.5,1319.9 4020.8,1268.7 4069.1,1220.6 4117.4,1175.3 4165.7,1132.4 4214,1091.6 4262.3,1052.6 4310.6,1015.2 4358.9,978.8 4407.2,943.3 4455.5,908.3 4494.6,879.9"/>
<g stroke="#000" stroke-width="3">
<line x1="3690" y1="833" x2="3690" y2="1676.5"/>
<line x1="3688.5" y1="1675" x2="4535" y2="1675"/>
<line x1="3673" y1="1633" x2="3690" y2="1633"/>
<line x1="3673" y1="1487.5" x2="3690" y2="1487.5"/>
<line x1="3673" y1="1342" x2="3690" y2="1342"/>
<line x1="3673" y1="1196.5" x2="3690" y2="1196.5"/>
<line x1="3673" y1="1051" x2="3690" y2="1051"/>
<line x1="3673" y1="905.5" x2="3690" y2="905.5"/>
<line x1="3731" y1="1675" x2="3731" y2="1692"/>
<line x1="3972.5" y1="1675" x2="3972.5" y2="1692"/>
<line x1="4214" y1="1675" x2="4214" y2="1692"/>
<line x1="4455.5" y1="1675" x2="4455.5" y2="1692"/>
</g>
<g font-size="58" text-anchor="end" fill="#000">
<text x="3652" y="1654">0.0</text>
<text x="3652" y="1508.5">2.5</text>
<text x="3652" y="1363">5.0</text>
<text x="3652" y="1217.5">7.5</text>
<text x="3652" y="1072">10.0</text>
<text x="3652" y="926.5">12.5</text>
</g>
<g font-size="58" text-anchor="middle" fill="#000">
<text x="3731" y="1757">0</text>
<text x="3972.5" y="1757">500</text>
<text x="4214" y="1757">1000</text>
<text x="4455.5" y="1757">1500</text>
<text x="4113" y="1830">no. samples</text>
</g>
<text transform="translate(3474,1251) rotate(-90)" font-size="58" text-anchor="middle">no. unique mutations</text>
</svg>
</body>
</html>
